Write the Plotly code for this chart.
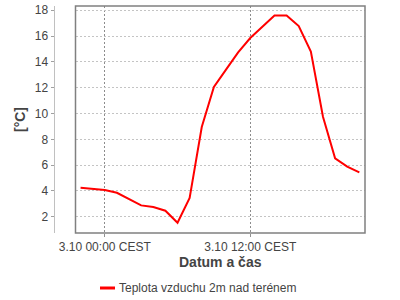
import plotly.graph_objects as go

times = ["2023-10-02 22:00", "2023-10-02 23:00", "2023-10-03 00:00", "2023-10-03 01:00",
         "2023-10-03 02:00", "2023-10-03 03:00", "2023-10-03 04:00", "2023-10-03 05:00",
         "2023-10-03 06:00", "2023-10-03 07:00", "2023-10-03 08:00", "2023-10-03 09:00",
         "2023-10-03 10:00", "2023-10-03 11:00", "2023-10-03 12:00", "2023-10-03 13:00",
         "2023-10-03 14:00", "2023-10-03 15:00", "2023-10-03 16:00", "2023-10-03 17:00",
         "2023-10-03 18:00", "2023-10-03 19:00", "2023-10-03 20:00", "2023-10-03 21:00"]
temps = [4.25, 4.15, 4.07, 3.86, 3.37, 2.88, 2.75, 2.47, 1.53, 3.45, 8.95, 12.05,
         13.4, 14.74, 15.85, 16.7, 17.6, 17.6, 16.78, 14.79, 9.75, 6.53, 5.88, 5.44]
series_name = "Teplota vzduchu 2m nad terénem"
x_tick_vals = ["2023-10-03 00:00", "2023-10-03 12:00"]
x_tick_text = ["3.10 00:00 CEST", "3.10 12:00 CEST"]
y_tick_vals = [2, 4, 6, 8, 10, 12, 14, 16, 18]

W, H = 400, 300
px = lambda v: v / W
py = lambda v: 1 - v / H

font = "Liberation Sans, Arial, sans-serif"
fig = go.Figure()
fig.add_trace(go.Scatter(x=times, y=temps, mode="lines", name=series_name,
                         line=dict(color="#ff0000", width=2), showlegend=False))

fig.update_layout(
    width=W, height=H, margin=dict(l=0, r=0, t=0, b=0, autoexpand=False),
    paper_bgcolor="white", plot_bgcolor="white",
    font=dict(family=font, size=12, color="#444444"),
    xaxis=dict(
        type="date", domain=[px(75.5), px(365)], automargin=False,
        range=["2023-10-02 21:35", "2023-10-03 21:28"],
        tickvals=x_tick_vals, ticktext=x_tick_text,
        showgrid=True, gridcolor="#8c8c8c", griddash="2px,2px", gridwidth=1,
        ticks="outside", ticklen=3, tickcolor="#909090",
        showline=False, zeroline=False,
        tickfont=dict(size=12, color="#444444"),
        title=dict(text="<b>Datum a čas</b>", font=dict(size=14, color="#444444"), standoff=2),
    ),
    yaxis=dict(
        domain=[py(233), py(6)], range=[0.74, 18.33], automargin=False,
        anchor="free", position=px(53.5),
        tickvals=y_tick_vals,
        showgrid=True, gridcolor="#c4c4c4", griddash="2px,2px", gridwidth=1,
        ticks="outside", ticklen=3, tickcolor="#a0a0a0",
        showline=True, linecolor="#c0c0c0", linewidth=1,
        zeroline=False,
        tickfont=dict(size=12, color="#444444"),
        title=dict(text="<b>[°C]</b>", font=dict(size=14, color="#444444"), standoff=4),
    ),
    shapes=[
        dict(type="rect", xref="x domain", yref="y domain", x0=0, x1=1, y0=0, y1=1,
             line=dict(color="#808080", width=1.5), fillcolor="rgba(0,0,0,0)", layer="above"),
        dict(type="line", xref="paper", yref="paper", x0=px(100), x1=px(115),
             y0=py(288), y1=py(288), line=dict(color="#ff0000", width=3)),
    ],
    annotations=[
        dict(text=series_name, xref="paper", yref="paper", x=px(117), y=py(288),
             xanchor="left", yanchor="middle", showarrow=False,
             font=dict(size=12, color="#444444")),
    ],
)

fig.write_html("out.html")
